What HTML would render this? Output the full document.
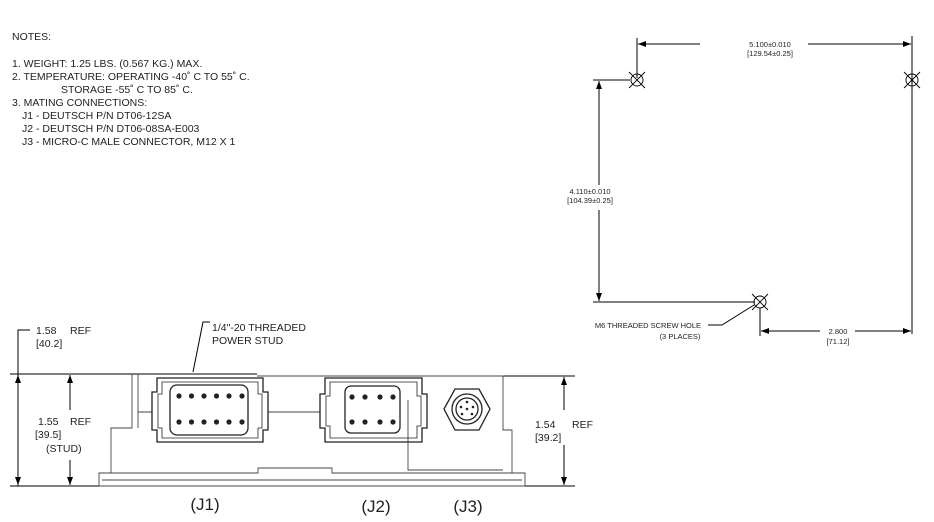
<!DOCTYPE html>
<html><head><meta charset="utf-8"><style>html,body{margin:0;padding:0;background:#fff}svg{display:block}text{font-family:"Liberation Sans",Arial,sans-serif;fill:#222}</style></head><body>
<svg width="934" height="522" viewBox="0 0 934 522" xmlns="http://www.w3.org/2000/svg">
<defs><marker id="a" markerWidth="8" markerHeight="6" refX="8" refY="3" orient="auto" markerUnits="userSpaceOnUse"><path d="M0,0 L8,3 L0,6z" fill="#000"/></marker></defs>
<g font-size="10.5">
<text x="12" y="40">NOTES:</text>
<text x="12" y="67">1. WEIGHT: 1.25 LBS. (0.567 KG.) MAX.</text>
<text x="12" y="80">2. TEMPERATURE: OPERATING -40˚ C TO 55˚ C.</text>
<text x="61" y="93">STORAGE -55˚ C TO 85˚ C.</text>
<text x="12" y="106">3. MATING CONNECTIONS:</text>
<text x="22" y="119">J1 - DEUTSCH P/N DT06-12SA</text>
<text x="22" y="132">J2 - DEUTSCH P/N DT06-08SA-E003</text>
<text x="22" y="145">J3 - MICRO-C MALE CONNECTOR, M12 X 1</text>
</g>
<!-- top right -->
<g stroke="#000" stroke-width="1" fill="none">
<line x1="637" y1="38" x2="637" y2="78"/>
<line x1="912" y1="36" x2="912" y2="334"/>
<line x1="700" y1="44" x2="638" y2="44" marker-end="url(#a)"/>
<line x1="808" y1="44" x2="911" y2="44" marker-end="url(#a)"/>
<line x1="593" y1="80" x2="630" y2="80"/>
<line x1="593" y1="302" x2="755" y2="302"/>
<line x1="599" y1="185" x2="599" y2="81" marker-end="url(#a)"/>
<line x1="599" y1="210" x2="599" y2="301" marker-end="url(#a)"/>
<line x1="760" y1="308" x2="760" y2="336"/>
<line x1="820" y1="331" x2="761" y2="331" marker-end="url(#a)"/>
<line x1="855" y1="331" x2="911" y2="331" marker-end="url(#a)"/>
<polyline points="708,325 722,325 754,305"/>
<g stroke-width="0.9">
<circle cx="637" cy="80" r="6"/><line x1="629" y1="72" x2="645" y2="88"/><line x1="645" y1="72" x2="629" y2="88"/>
<circle cx="912" cy="80" r="6"/><line x1="904" y1="72" x2="920" y2="88"/><line x1="920" y1="72" x2="904" y2="88"/>
<circle cx="760" cy="302" r="6"/><line x1="752" y1="294" x2="768" y2="310"/><line x1="768" y1="294" x2="752" y2="310"/>
</g>
</g>
<g font-size="7.5" text-anchor="middle">
<text x="770" y="47">5.100±0.010</text><text x="770" y="56">[129.54±0.25]</text>
<text x="590" y="194">4.110±0.010</text><text x="590" y="203">[104.39±0.25]</text>
<text x="838" y="334">2.800</text><text x="838" y="344">[71.12]</text>
<text x="648" y="328">M6 THREADED SCREW HOLE</text><text x="680" y="339">(3 PLACES)</text>
</g>
<!-- bottom view -->
<g stroke="#000" stroke-width="1" fill="none">
<polyline points="30,330 18,330 18,486"/>
<line x1="10" y1="374" x2="257" y2="374"/>
<line x1="10" y1="486" x2="100" y2="486"/>
<line x1="18" y1="380" x2="18" y2="375" marker-end="url(#a)"/>
<line x1="18" y1="440" x2="18" y2="485" marker-end="url(#a)"/>
<line x1="70" y1="410" x2="70" y2="375" marker-end="url(#a)"/>
<line x1="70" y1="460" x2="70" y2="485" marker-end="url(#a)"/>
<line x1="503" y1="376" x2="575" y2="376"/>
<line x1="525" y1="486" x2="575" y2="486"/>
<line x1="564" y1="410" x2="564" y2="377" marker-end="url(#a)"/>
<line x1="564" y1="445" x2="564" y2="485" marker-end="url(#a)"/>
<polyline points="210,322 203,322 193,372"/>
</g>
<g stroke="#444" stroke-width="0.9" fill="none">
<path d="M132,374 V428 H111 V473 H99 V486 H525 V473 H512 V430 H503 V376 H257"/>
<path d="M138,374 V428"/>
<path d="M102,480 H522"/>
<path d="M99,473 H258 V468 H332 V473 H512"/>
<path d="M408,400 V470 H503"/>
<path d="M138,412 H152 M268,412 H320"/>
</g>
<g stroke="#222" stroke-width="1.3" fill="none">
<!-- J1 -->
<path d="M157,378 h106 v14 h5 v38 h-5 v12 h-106 v-12 h-5 v-38 h5z"/>
<path d="M162,382 h96 v12 h4 v34 h-4 v10 h-96 v-10 h-4 v-34 h4z" stroke-width="0.8"/>
<rect x="170" y="385" width="78" height="50" rx="7"/>
<!-- J2 -->
<path d="M325,378 h97 v16 h5 v34 h-5 v14 h-97 v-14 h-5 v-34 h5z"/>
<path d="M330,382 h87 v14 h4 v30 h-4 v12 h-87 v-12 h-4 v-30 h4z" stroke-width="0.8"/>
<rect x="345" y="386" width="55" height="47" rx="6"/>
<!-- J3 -->
<polygon points="455,389 479,389 490,409 479,430 455,430 444,409"/>
<circle cx="467" cy="409" r="15"/><circle cx="467" cy="409" r="11"/>
</g>
<g fill="#222">
<circle cx="179" cy="396" r="2.6"/><circle cx="191.5" cy="396" r="2.6"/><circle cx="204" cy="396" r="2.6"/><circle cx="216.5" cy="396" r="2.6"/><circle cx="229" cy="396" r="2.6"/><circle cx="242" cy="396" r="2.6"/>
<circle cx="179" cy="422" r="2.6"/><circle cx="191.5" cy="422" r="2.6"/><circle cx="204" cy="422" r="2.6"/><circle cx="216.5" cy="422" r="2.6"/><circle cx="229" cy="422" r="2.6"/><circle cx="242" cy="422" r="2.6"/>
<circle cx="352" cy="397" r="2.6"/><circle cx="365" cy="397" r="2.6"/><circle cx="380" cy="397" r="2.6"/><circle cx="393" cy="397" r="2.6"/>
<circle cx="352" cy="422" r="2.6"/><circle cx="365" cy="422" r="2.6"/><circle cx="380" cy="422" r="2.6"/><circle cx="393" cy="422" r="2.6"/>
<circle cx="467" cy="402" r="1.3"/><circle cx="461" cy="407" r="1.3"/><circle cx="473" cy="407" r="1.3"/><circle cx="462" cy="414" r="1.3"/><circle cx="472" cy="414" r="1.3"/><circle cx="467" cy="409" r="1.3"/>
</g>
<g font-size="10.5">
<text x="36" y="334">1.58</text><text x="70" y="334">REF</text><text x="36" y="347">[40.2]</text>
<text x="212" y="331">1/4"-20 THREADED</text><text x="212" y="344">POWER STUD</text>
<text x="38" y="425">1.55</text><text x="70" y="425">REF</text><text x="35" y="438">[39.5]</text><text x="46" y="452">(STUD)</text>
<text x="535" y="428">1.54</text><text x="572" y="428">REF</text><text x="535" y="441">[39.2]</text>
</g>
<g font-size="17" text-anchor="middle">
<text x="205" y="510">(J1)</text><text x="376" y="512">(J2)</text><text x="468" y="512">(J3)</text>
</g>
</svg>
</body></html>
